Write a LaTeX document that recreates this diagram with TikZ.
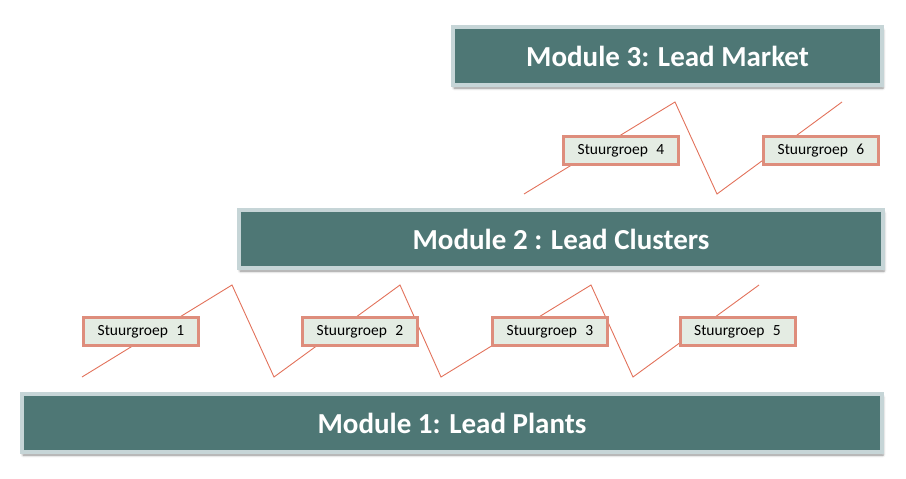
\documentclass[tikz,border=0pt]{standalone}
\usepackage{fontspec}
\setmainfont{Carlito}
\usepackage{xcolor}
\usetikzlibrary{shadows.blur}
\definecolor{moduleteal}{HTML}{4E7775}
\definecolor{moduleedge}{HTML}{C6D5D7}
\definecolor{groupfill}{HTML}{E4ECE3}
\definecolor{groupedge}{HTML}{DE8D7C}
\definecolor{zigzag}{HTML}{E2725B}
\tikzset{
	module/.style={
			draw=moduleedge, line width=4pt, fill=moduleteal,
			minimum height=58pt, inner sep=0pt,
			text=white, font=\fontsize{29}{34}\selectfont\bfseries,
			blur shadow={shadow xshift=1pt, shadow yshift=-3pt,
					shadow blur radius=2.5pt, shadow opacity=45}
		},
	groupbox/.style={
			draw=groupedge, line width=3pt, fill=groupfill,
			minimum width=115pt, minimum height=28pt, inner sep=0pt,
			font=\fontsize{15.5}{18}\selectfont
		},
	zigline/.style={draw=zigzag, line width=0.9pt}
}

\begin{document}
\begin{tikzpicture}[x=1pt, y=-1pt]
			\useasboundingbox (0,0) rectangle (906,479);
			% Zigzag lines behind the groups
			\coordinate (u0) at (524,194);
			\coordinate (u1) at (675,102);
			\coordinate (u2) at (717,194);
			\coordinate (u3) at (842,102);
			\draw[zigline] (u0) -- (u1) -- (u2) -- (u3);
			\coordinate (l0) at (82,377);
			\coordinate (l1) at (232,285);
			\coordinate (l2) at (274,377);
			\coordinate (l3) at (400,285);
			\coordinate (l4) at (441,377);
			\coordinate (l5) at (591,285);
			\coordinate (l6) at (633,377);
			\coordinate (l7) at (759,285);
			\draw[zigline] (l0) -- (l1) -- (l2) -- (l3) -- (l4) -- (l5) -- (l6) -- (l7);
			% Modules
			\node[module, minimum width=429pt] (mod3) at (667.5,56) {Module 3: Lead Market};
			\node[module, minimum width=644pt] (mod2) at (561,239) {Module 2 : Lead Clusters};
			\node[module, minimum width=860pt] (mod1) at (452,423) {Module 1: Lead Plants};
			% Steering groups
			\node[groupbox] (sg4) at (621,150.5) {Stuurgroep\hspace{0.55em}4};
			\node[groupbox] (sg6) at (821,150.5) {Stuurgroep\hspace{0.55em}6};
			\node[groupbox] (sg1) at (141,331.5) {Stuurgroep\hspace{0.55em}1};
			\node[groupbox] (sg2) at (360,331.5) {Stuurgroep\hspace{0.55em}2};
			\node[groupbox] (sg3) at (550,331.5) {Stuurgroep\hspace{0.55em}3};
			\node[groupbox] (sg5) at (737.5,331.5) {Stuurgroep\hspace{0.55em}5};
		\end{tikzpicture}
\end{document}
